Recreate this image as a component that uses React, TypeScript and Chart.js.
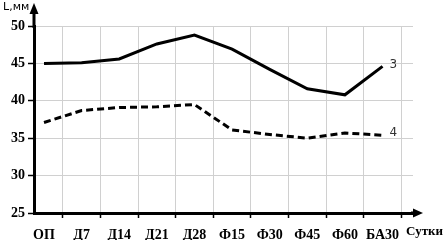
import React, { useEffect, useRef } from "react";
import { Chart, registerables } from "chart.js";

Chart.register(...registerables);

const categories = ["ОП", "Д7", "Д14", "Д21", "Д28", "Ф15", "Ф30", "Ф45", "Ф60", "БА30"];
const series3 = [45.0, 45.1, 45.6, 47.6, 48.8, 46.9, 44.2, 41.6, 40.8, 44.6];
const series4 = [37.1, 38.7, 39.1, 39.2, 39.5, 36.1, 35.5, 35.0, 35.7, 35.4];
const seriesNames = ["3", "4"];
const yTicks = [25, 30, 35, 40, 45, 50];
const yTitle = "L,мм";
const xTitle = "Сутки";

const SERIF = "'Liberation Serif', 'Times New Roman', serif";
const SANS = "'DejaVu Sans', sans-serif";

const decorPlugin = {
  id: "decor",
  afterDraw(chart: any) {
    const { ctx, chartArea } = chart;
    const { left, right, top, bottom } = chartArea;
    ctx.save();
    ctx.strokeStyle = "#000";
    ctx.fillStyle = "#000";
    ctx.lineWidth = 3;
    // y axis extension + arrow
    ctx.beginPath();
    ctx.moveTo(left, top + 2);
    ctx.lineTo(left, 10);
    ctx.stroke();
    ctx.beginPath();
    ctx.moveTo(left, 3);
    ctx.lineTo(left - 4.5, 14);
    ctx.lineTo(left + 4.5, 14);
    ctx.closePath();
    ctx.fill();
    // x axis extension + arrow
    ctx.beginPath();
    ctx.moveTo(right - 2, bottom);
    ctx.lineTo(right + 3, bottom);
    ctx.stroke();
    ctx.beginPath();
    ctx.moveTo(right + 10, bottom);
    ctx.lineTo(right, bottom - 4.5);
    ctx.lineTo(right, bottom + 4.5);
    ctx.closePath();
    ctx.fill();
    // titles
    ctx.font = "11px " + SANS;
    ctx.textAlign = "left";
    ctx.textBaseline = "top";
    ctx.fillText(yTitle, 3, 2);
    ctx.font = "bold 13px " + SERIF;
    ctx.textAlign = "right";
    ctx.textBaseline = "middle";
    ctx.fillText(xTitle, 443, 232);
    // series labels
    ctx.font = "12px " + SANS;
    ctx.fillStyle = "#333";
    ctx.textAlign = "left";
    chart.data.datasets.forEach((ds: any, i: number) => {
      const meta = chart.getDatasetMeta(i);
      const pt = meta.data[meta.data.length - 1];
      ctx.fillText(seriesNames[i], pt.x + 7, pt.y - 2);
    });
    ctx.restore();
  },
};

export default function App() {
  const ref = useRef<HTMLCanvasElement>(null);
  useEffect(() => {
    if (!ref.current) return;
    const toXY = (arr: number[]) => arr.map((v, i) => ({ x: i, y: v }));
    const chart = new Chart(ref.current, {
      type: "line",
      data: {
        datasets: [
          {
            label: seriesNames[0],
            data: toXY(series3),
            borderColor: "#000",
            borderWidth: 3,
            pointRadius: 0,
            tension: 0,
            xAxisID: "x",
          },
          {
            label: seriesNames[1],
            data: toXY(series4),
            borderColor: "#000",
            borderWidth: 3,
            borderDash: [7, 4],
            pointRadius: 0,
            tension: 0,
            xAxisID: "x",
          },
        ],
      },
      options: {
        animation: false,
        responsive: false,
        maintainAspectRatio: false,
        layout: { padding: { top: 26, right: 31, left: 0, bottom: 0 } },
        plugins: { legend: { display: false }, tooltip: { enabled: false } },
        scales: {
          x: {
            type: "linear",
            position: "bottom",
            min: -0.266,
            max: 9.81,
            afterBuildTicks: (s: any) => {
              s.ticks = categories.map((_, i) => ({ value: i + 0.5 }));
            },
            ticks: { display: false },
            grid: { color: "#d0d0d0", lineWidth: 1, tickLength: 5, tickColor: "#000", tickWidth: 1.5 },
            border: { display: true, color: "#000", width: 3 },
            afterFit: (s: any) => {
              s.height = 5;
            },
          },
          xl: {
            type: "linear",
            position: "bottom",
            min: -0.266,
            max: 9.81,
            afterBuildTicks: (s: any) => {
              s.ticks = categories.map((_, i) => ({ value: i }));
            },
            ticks: {
              autoSkip: false,
              maxRotation: 0,
              padding: 9,
              color: "#000",
              font: { family: SERIF, size: 14, weight: "bold" },
              callback: (v: any) => categories[Math.round(Number(v))] ?? "",
            },
            grid: { display: false, drawTicks: false },
            border: { display: false },
            afterFit: (s: any) => {
              s.height = 22;
            },
          },
          y: {
            type: "linear",
            min: 25,
            max: 50,
            afterBuildTicks: (s: any) => {
              s.ticks = yTicks.map((v) => ({ value: v }));
            },
            ticks: {
              padding: 3,
              color: "#000",
              font: { family: SERIF, size: 14, weight: "bold" },
            },
            grid: { color: "#d0d0d0", lineWidth: 1, tickLength: 6, tickColor: "#000", tickWidth: 1.5 },
            border: { display: true, color: "#000", width: 3 },
            afterFit: (s: any) => {
              s.width = 34;
            },
          },
        },
      },
      plugins: [decorPlugin],
    });
    return () => chart.destroy();
  }, []);
  return (
    <div style={{ position: "fixed", left: 0, top: 0, width: 444, height: 240, background: "#fff" }}>
      <canvas ref={ref} width={444} height={240} style={{ width: 444, height: 240 }} />
    </div>
  );
}
